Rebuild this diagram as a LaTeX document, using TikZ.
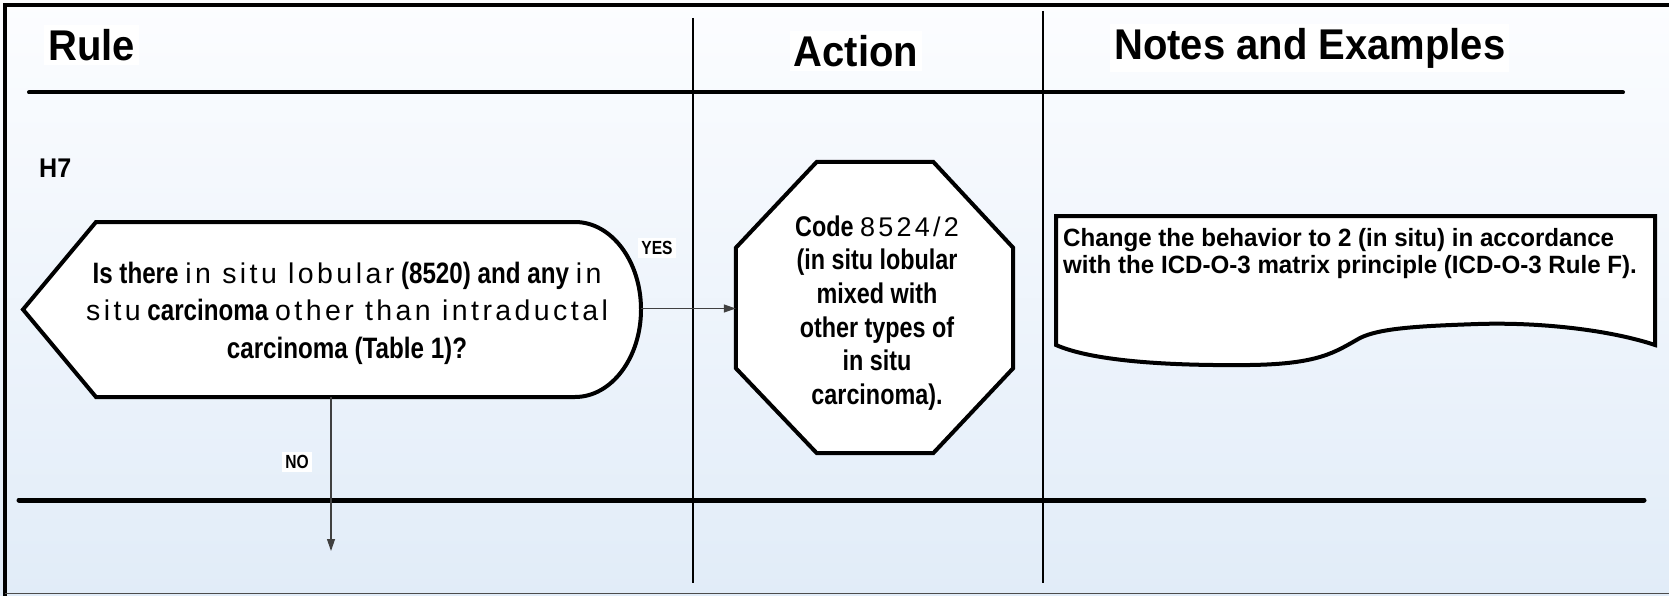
\documentclass[tikz,border=0pt]{standalone}
\usepackage{fontspec}
\setmainfont{Liberation Sans}
\newfontfamily\headfont{Liberation Sans}[FakeStretch=0.93]
\newfontfamily\narrowfont{Liberation Sans}[FakeStretch=0.82]
\newfontfamily\widefont{Liberation Sans}[LetterSpace=12]
\newfontfamily\notefont{Liberation Sans}[FakeStretch=0.965]
\usetikzlibrary{arrows.meta}
\newcommand\qbold[1]{{\narrowfont\bfseries #1}}
\newcommand\qlight[1]{{\widefont\mdseries\fontsize{28.5}{37}\selectfont #1}}
\definecolor{bgtop}{RGB}{252,253,255}
\definecolor{bgbottom}{RGB}{225,236,248}

\begin{document}
\begin{tikzpicture}[x=1pt,y=-1pt,
  heading/.style={font=\headfont\bfseries\fontsize{43}{50}\selectfont, fill=white, inner sep=4pt},
  hrule/.style={line width=4pt, line cap=round},
  divider/.style={line width=2pt},
  shapeline/.style={draw=black, line width=4pt, fill=white, line join=miter},
  flow/.style={draw=black!75, line width=1.2pt, -{Triangle[length=12pt,width=8pt]}},
  answer/.style={font=\narrowfont\bfseries\fontsize{19}{22}\selectfont, fill=white, inner sep=3pt}
]
\useasboundingbox (0,0) rectangle (1669,596);
\shade[top color=bgtop, bottom color=bgbottom] (0,0) rectangle (1669,596);

% outer frame (no right edge)
\draw[line width=4pt] (1669,5) -- (5,5) -- (5,596);
\draw[black!70, line width=1.5pt] (5,593.5) -- (1669,593.5);

% column headings
\node[heading, anchor=west] (hrule) at (44,45) {Rule};
\node[heading] (haction) at (856,51) {Action};
\node[heading, anchor=west] (hnotes) at (1110,48) {Notes and Examples};

% table rules
\draw[hrule] (29,92.5) -- (1623,92.5);
\draw[line width=5pt, line cap=round] (19,500) -- (1644,500);
\draw[divider] (693,18) -- (693,583);
\draw[divider] (1043,11) -- (1043,583);

% rule number
\node[font=\headfont\bfseries\fontsize{27}{30}\selectfont, anchor=west, inner sep=0] (h7) at (39,168) {H7};

% decision shape
\draw[shapeline] (23,309.5) -- (96,222) -- (575,222)
  arc[start angle=-90, end angle=90, x radius=66, y radius=87.5]
  -- (96,397) -- cycle;
\node[align=center, inner sep=0, font=\narrowfont\bfseries\fontsize{29.5}{37.5}\selectfont] (q) at (347,313)
  {\qbold{Is there} \qlight{in situ lobular} \qbold{(8520) and any} \qlight{in}\\
   \qlight{situ} \qbold{carcinoma} \qlight{other than intraductal}\\
   \qbold{carcinoma (Table 1)?}};
\coordinate (qE) at (641,308.5);
\coordinate (qS) at (331,397);
\coordinate (noend) at (331,551);

% action octagon
\node[inner sep=0, minimum width=277pt, minimum height=291pt] (act) at (874.5,307.5) {};
\draw[shapeline] ([xshift=81pt]act.north west) -- ([xshift=-80pt]act.north east)
  -- ([yshift=-86pt]act.north east) -- ([yshift=85pt]act.south east)
  -- ([xshift=-80pt]act.south east) -- ([xshift=81pt]act.south west)
  -- ([yshift=85pt]act.south west) -- ([yshift=-86pt]act.north west) -- cycle;
\node[align=center, inner sep=0, font=\narrowfont\bfseries\fontsize{28.5}{33.6}\selectfont] (acttext) at (877,313)
  {Code {\widefont\mdseries\fontsize{27}{33.6}\selectfont 8524/2}\\(in situ lobular\\mixed with\\other types of\\in situ\\carcinoma).};

% note with torn lower edge
\draw[shapeline] (1056,216) -- (1655,216) -- (1655,345)
  .. controls (1610,330) and (1540,322) .. (1478,324)
  .. controls (1420,326) and (1380,328) .. (1360,338)
  .. controls (1335,352) and (1320,364) .. (1250,365)
  .. controls (1160,366) and (1090,360) .. (1056,345) -- cycle;
\node[anchor=west, align=left, inner sep=0, font=\notefont\bfseries\fontsize{25}{27}\selectfont] (note) at (1063,253.5)
  {Change the behavior to 2 (in situ) in accordance\\with the ICD-O-3 matrix principle (ICD-O-3 Rule F).};

% connectors
\draw[flow] (qE) -- (qE -| act.west);
\draw[flow] (qS) -- (noend);
\node[answer] (yes) at (657,248) {YES};
\node[answer] (no) at (297,462) {NO};
\end{tikzpicture}
\end{document}
